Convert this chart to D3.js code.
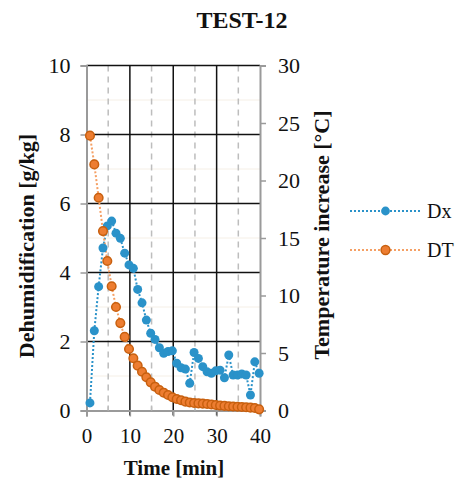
<!DOCTYPE html>
<html><head><meta charset="utf-8">
<script src="https://cdn.jsdelivr.net/npm/d3@7"></script>
<style>body{margin:0;background:#fff}svg{display:block}text{font-family:"Liberation Serif","Times New Roman",serif;fill:#111}</style>
</head><body><svg id="c" width="469" height="481"></svg>
<script>
const title = "TEST-12";
const times = [0.8,1.8,2.8,3.8,4.8,5.8,6.8,7.8,8.8,9.8,10.8,11.8,12.8,13.8,14.8,15.8,16.8,17.8,18.8,19.8,20.8,21.8,22.8,23.8,24.8,25.8,26.8,27.8,28.8,29.8,30.8,31.8,32.8,33.8,34.8,35.8,36.8,37.8,38.8,39.8];
const dx = [0.22,2.31,3.59,4.71,5.35,5.49,5.14,4.99,4.56,4.22,4.12,3.51,3.12,2.62,2.24,2.06,1.82,1.66,1.71,1.73,1.37,1.24,1.20,0.79,1.68,1.51,1.27,1.12,1.08,1.15,1.17,0.95,1.61,1.03,1.03,1.06,1.03,0.45,1.41,1.08];
const dt = [23.9,21.4,18.5,15.6,13.0,10.8,9.0,7.6,6.4,5.35,4.54,3.9,3.37,2.89,2.45,2.07,1.78,1.55,1.35,1.15,1.0,0.89,0.77,0.7,0.65,0.62,0.6,0.57,0.52,0.48,0.43,0.4,0.37,0.35,0.33,0.3,0.28,0.25,0.22,0.1];
const xTicks = [0,10,20,30,40];
const xDashed = [5,15,25,35];
const yLeftTicks = [0,2,4,6,8,10];
const yMinor = [1,3,5,7,9];
const yRightTicks = [0,5,10,15,20,25,30];
const seriesNames = ["Dx","DT"];

const svg = d3.select("#c");
const L=86.5, R=260, T=65.5, B=410.5;
const x = d3.scaleLinear().domain([0,40]).range([L,R]);
const yL = d3.scaleLinear().domain([0,10]).range([B,T]);
const yR = d3.scaleLinear().domain([0,30]).range([B,T]);
const blue="#2a92c9", orange="#ED7D31", orangeDark="#C8600F", orangeLine="#F5A065";
const FF = "'Liberation Serif','Times New Roman',serif";

// minor horizontal
svg.append("g").selectAll("line").data(yMinor).join("line")
 .attr("x1",L).attr("x2",R).attr("y1",d=>yL(d)).attr("y2",d=>yL(d))
 .attr("stroke","#eadfcc").attr("stroke-width",1).attr("stroke-dasharray","1,1");
// dashed vertical
svg.append("g").selectAll("line").data(xDashed).join("line")
 .attr("x1",d=>x(d)).attr("x2",d=>x(d)).attr("y1",T).attr("y2",B)
 .attr("stroke","#bdbdbd").attr("stroke-width",1.5).attr("stroke-dasharray","6,5");
// major grid
svg.append("g").selectAll("line").data(yLeftTicks.filter(d=>d>0)).join("line")
 .attr("x1",L).attr("x2",R).attr("y1",d=>yL(d)).attr("y2",d=>yL(d))
 .attr("stroke","#111").attr("stroke-width",1.5);
svg.append("g").selectAll("line").data(xTicks.filter(d=>d>0&&d<40)).join("line")
 .attr("x1",d=>x(d)).attr("x2",d=>x(d)).attr("y1",T).attr("y2",B+5)
 .attr("stroke","#111").attr("stroke-width",1.5);

// axes
const gL = svg.append("g").attr("transform",`translate(${L},0)`)
 .call(d3.axisLeft(yL).tickValues(yLeftTicks).tickSize(6).tickPadding(10).tickFormat(d3.format("d")));
const gR = svg.append("g").attr("transform",`translate(${R},0)`)
 .call(d3.axisRight(yR).tickValues(yRightTicks).tickSize(6).tickPadding(12).tickFormat(d3.format("d")));
const gB = svg.append("g").attr("transform",`translate(0,${B})`)
 .call(d3.axisBottom(x).tickValues(xTicks).tickSize(6).tickPadding(10).tickFormat(d3.format("d")));
[gL,gR,gB].forEach(g=>{
  g.attr("font-family",FF).attr("font-size",22);
  g.select(".domain").attr("stroke","#9a9a9a").attr("stroke-width",2);
  g.selectAll(".tick line").attr("stroke","#9a9a9a").attr("stroke-width",1.5);
  g.selectAll(".tick text").attr("fill","#222");
});
gL.selectAll(".tick text").attr("dy","0.34em");
gR.selectAll(".tick text").attr("dy","0.34em");
gB.attr("font-size",21);
gB.selectAll(".tick text").attr("y",32).attr("dy",0);
// minor upward ticks on x-axis
svg.append("g").selectAll("line").data(xDashed).join("line")
 .attr("x1",d=>x(d)).attr("x2",d=>x(d)).attr("y1",B-5).attr("y2",B)
 .attr("stroke","#bdbdbd").attr("stroke-width",1.5);

// series
const lineDx = d3.line().x((d,i)=>x(times[i])).y(d=>yL(d));
const lineDt = d3.line().x((d,i)=>x(times[i])).y(d=>yR(d));
svg.append("path").attr("d",lineDx(dx)).attr("fill","none").attr("stroke",blue).attr("stroke-width",2).attr("stroke-dasharray","2,2");
svg.append("path").attr("d",lineDt(dt)).attr("fill","none").attr("stroke",orangeLine).attr("stroke-width",2).attr("stroke-dasharray","2,2");
svg.append("g").selectAll("circle").data(dx).join("circle")
 .attr("cx",(d,i)=>x(times[i])).attr("cy",d=>yL(d)).attr("r",4.5).attr("fill",blue);
svg.append("g").selectAll("circle").data(dt).join("circle")
 .attr("cx",(d,i)=>x(times[i])).attr("cy",d=>yR(d)).attr("r",4.3).attr("fill",orange).attr("stroke",orangeDark).attr("stroke-width",1.5);

// title
svg.append("text").attr("x",242).attr("y",28).attr("text-anchor","middle")
 .style("font-size","24px").style("font-weight","bold").text(title);
// axis titles
svg.append("text").attr("transform","translate(34,246) rotate(-90)").attr("text-anchor","middle")
 .style("font-size","22px").style("font-weight","bold").text("Dehumidification [g/kg]");
svg.append("text").attr("transform","translate(329,235) rotate(-90)").attr("text-anchor","middle")
 .style("font-size","22px").style("font-weight","bold").text("Temperature increase [°C]");
svg.append("text").attr("x",174).attr("y",475).attr("text-anchor","middle")
 .style("font-size","21px").style("font-weight","bold").text("Time [min]");

// legend
const leg = [{n:seriesNames[0],y:211,c:blue,lc:blue,s:null},{n:seriesNames[1],y:250,c:orange,lc:orangeLine,s:orangeDark}];
const lg = svg.append("g");
leg.forEach(l=>{
  lg.append("line").attr("x1",350).attr("x2",420).attr("y1",l.y).attr("y2",l.y).attr("stroke",l.lc).attr("stroke-width",2).attr("stroke-dasharray","2,2");
  lg.append("circle").attr("cx",385.5).attr("cy",l.y).attr("r",4.4).attr("fill",l.c).attr("stroke",l.s||"none").attr("stroke-width",1.5);
  lg.append("text").attr("x",427).attr("y",l.y+7).style("font-size","20px").text(l.n);
});
</script></body></html>
